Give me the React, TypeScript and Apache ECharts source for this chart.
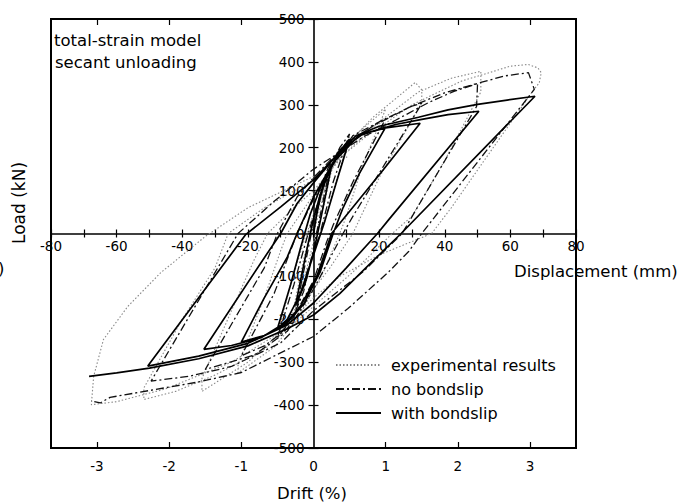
import React, { useEffect, useRef } from "react";
import * as echarts from "echarts";

// ---- data (displacement mm, load kN) ----
const seriesNames = ["experimental results", "no bondslip", "with bondslip"];

const experimentalResults: [number, number][] = [
  [0, 0], [3, 90], [6, 165], [3, 60], [0, -20], [-3, -110], [-6, -172], [-3, -60], [0, 25], [5, 140], [11, 225],
  [6, 100], [2, 0], [-2, -90], [-6, -182], [-11, -235], [-7, -120], [-3, -20], [0, 45], [6, 155], [12, 225], [22, 290],
  [15, 160], [10, 40], [8, 0], [3, -90], [-5, -200], [-12, -265], [-23, -325], [-23, -305],
  [-15, -150], [-10, -40], [-8, 0], [0, 90], [8, 190], [18, 270], [31, 352], [33, 335], [33, 305],
  [20, 130], [12, 0], [5, -80], [0, -130], [-10, -230], [-20, -300], [-34, -368], [-34, -338],
  [-25, -180], [-18, -60], [-14, 0], [-6, 60], [0, 100], [10, 190], [20, 260], [32, 330], [42, 362], [51, 378], [51, 330],
  [40, 170], [30, 40], [24, 0], [12, -90], [0, -170], [-15, -270], [-30, -330], [-42, -368], [-51.7, -387], [-51.7, -360],
  [-40, -200], [-30, -80], [-26, 0], [-15, 60], [0, 125], [15, 220], [30, 300], [45, 355], [60, 390], [65.4, 394], [68.4, 386], [69.4, 375], [68.8, 351], [67.2, 336],
  [52, 170], [42, 60], [36, 0], [20, -50], [8, -100], [0, -150], [-10, -230], [-25, -300], [-45, -362], [-60, -392], [-67.7, -399],
  [-67, -333], [-64, -247], [-56.6, -170], [-46.5, -91], [-33, -7], [-20, 60], [0, 133], [10.5, 180],
];

const noBondslip: [number, number][] = [
  [0, 0], [1.5, 75], [3, 125], [5.5, 172],
  [2.5, 60], [0, -35], [-3, -135], [-5.5, -182],
  [-2.5, -70], [0, 25], [4, 135], [8, 200], [11, 232],
  [6, 120], [2, 0], [-2, -90], [-6, -195], [-11, -242],
  [-6, -120], [-2, -10], [0, 40], [5, 150], [12, 228], [22, 268],
  [12, 120], [6, 20], [4, -20], [0, -110], [-8, -222], [-15, -262], [-22, -285],
  [-12, -140], [-7, -40], [-5, 0], [0, 80], [8, 192], [18, 250], [30, 297], [33, 303],
  [12, 40], [9, 0], [0, -130], [-8, -228], [-18, -283], [-33, -317],
  [-15, -80], [-11, 0], [-5, 85], [0, 130], [10, 210], [20, 260], [30, 297], [40, 328], [50, 350], [49.7, 296],
  [27, 0], [15, -90], [0, -180], [-10, -255], [-25, -310], [-38, -333], [-49.5, -344],
  [-23, 0], [-12, 75], [0, 150], [15.4, 226], [25, 264], [35, 305], [43, 332], [51, 352], [58, 367], [65.5, 375], [67.3, 336],
  [33, 0], [29, -42], [22.7, -91], [10.5, -175], [0, -240], [-22, -324], [-35, -346], [-50, -366], [-62, -382], [-65, -395], [-67.8, -390],
];

const withBondslip: [number, number][] = [
  [0, 0], [1, 45], [2.5, 100], [5.5, 158],
  [2.5, 45], [0, -45], [-2.5, -115], [-5.5, -168],
  [-2.5, -55], [0, 35], [3, 115], [5.5, 155], [8, 192], [11, 220],
  [7, 120], [3.5, 30], [0, -50], [-4, -140], [-8, -200], [-11, -222],
  [-7, -120], [-4, -35], [-1, 45], [3, 125], [8, 188], [14, 228], [22, 248],
  [14, 140], [9, 60], [6, 0], [2, -90], [-3, -165], [-8, -208], [-15, -238], [-22, -253],
  [-15, -150], [-8, -55], [-5, 0], [0, 85], [6, 165], [14, 230], [22, 246], [32.5, 257],
  [20.6, 142], [5.5, 0], [1, -100], [-4, -170], [-8, -205], [-16, -243], [-25, -261], [-33.4, -270],
  [-16, -68], [-10, 0], [-5, 70], [0, 118], [8, 192], [15, 232], [25, 254], [33, 266], [41, 277], [50.4, 285],
  [23, 33], [19.5, 0], [10, -80], [0, -162], [-8, -213], [-20, -256], [-35, -286], [-50.5, -309],
  [-20.6, -2], [-10, 62], [0, 125], [8, 190], [13, 228], [20, 250], [32, 271], [41, 288], [50, 301], [59, 311], [67.5, 320],
  [26.7, 0], [18.5, -61], [8, -140], [0, -190], [-8, -222], [-20, -262], [-35, -292], [-50, -314], [-60, -325], [-68.4, -333],
];

// ---- axes ----
const dispMin = -80;
const dispMax = 80;
const loadMin = -500;
const loadMax = 500;
const mmPerDriftPct = 22;
const driftTicks = [-3, -2, -1, 1, 2, 3];
const driftLabels = [-3, -2, -1, 0, 1, 2, 3];

const FONT = '"DejaVu Sans", sans-serif';

// grid geometry
const GRID_LEFT = 51;
const GRID_RIGHT = 118;
const GRID_TOP = 19;
const GRID_BOTTOM = 56;
const CHART_W = 694;
const CHART_H = 504;
const plotW = CHART_W - GRID_LEFT - GRID_RIGHT;
const plotH = CHART_H - GRID_TOP - GRID_BOTTOM;
// crossing axes move into the middle of the box (zero of both scales)
const xAxisOffset = -(plotH * (0 - loadMin)) / (loadMax - loadMin);
const yAxisOffset = -(plotW * (0 - dispMin)) / (dispMax - dispMin);

export default function App() {
  const ref = useRef<HTMLDivElement>(null);

  useEffect(() => {
    document.body.style.margin = "0";
    if (!ref.current) return;
    const chart = echarts.init(ref.current, undefined, { renderer: "svg" });

    const lineCommon = {
      type: "line" as const,
      symbol: "none",
      showSymbol: false,
      xAxisIndex: 0,
      yAxisIndex: 0,
      silent: true,
      clip: true,
    };

    const tickStyle = { color: "#000", width: 1.2 };

    const option: any = {
      animation: false,
      backgroundColor: "#fff",
      grid: {
        left: GRID_LEFT, right: GRID_RIGHT, top: GRID_TOP, bottom: GRID_BOTTOM,
        show: true, borderColor: "#000", borderWidth: 2,
        containLabel: false, outerBoundsMode: "none",
      },
      legend: {
        orient: "vertical",
        left: 330,
        top: 352,
        itemWidth: 45,
        itemHeight: 14,
        itemGap: 8,
        selectedMode: false,
        data: seriesNames,
        itemStyle: { color: "rgba(0,0,0,0)", borderColor: "rgba(0,0,0,0)", borderWidth: 0 },
        textStyle: { fontSize: 16, fontFamily: FONT, color: "#000", padding: [0, 0, 0, 5] },
      },
      xAxis: [
        {
          type: "value", min: dispMin, max: dispMax, interval: 10, position: "bottom", offset: xAxisOffset,
          axisLine: { show: true, onZero: false, lineStyle: { color: "#000", width: 1.6 } },
          axisTick: { show: true, inside: true, length: 4, lineStyle: tickStyle },
          axisLabel: {
            show: true, margin: 5, fontSize: 13.5, fontFamily: FONT, color: "#000",
            showMinLabel: true, showMaxLabel: true, hideOverlap: false,
            formatter: (v: number) => (v % 20 === 0 && v !== 0 ? String(v) : ""),
          },
          splitLine: { show: false },
        },
        {
          type: "value", min: dispMin, max: dispMax, interval: 10, position: "bottom", offset: xAxisOffset,
          axisLine: { show: false, onZero: false },
          axisTick: { show: true, inside: false, length: 4, lineStyle: tickStyle },
          axisLabel: { show: false },
          splitLine: { show: false },
        },
        {
          type: "value", min: dispMin / mmPerDriftPct, max: dispMax / mmPerDriftPct, position: "bottom",
          axisLine: { show: false, onZero: false },
          axisTick: { show: true, inside: true, length: 6, customValues: driftTicks, lineStyle: tickStyle },
          axisLabel: { show: true, customValues: driftLabels, margin: 11, fontSize: 13.5, fontFamily: FONT, color: "#000" },
          splitLine: { show: false },
        },
        {
          type: "value", min: dispMin / mmPerDriftPct, max: dispMax / mmPerDriftPct, position: "top",
          axisLine: { show: false, onZero: false },
          axisTick: { show: true, inside: true, length: 6, customValues: driftTicks, lineStyle: tickStyle },
          axisLabel: { show: false },
          splitLine: { show: false },
        },
      ],
      yAxis: [
        {
          type: "value", min: loadMin, max: loadMax, interval: 100, position: "left", offset: yAxisOffset,
          axisLine: { show: true, onZero: false, lineStyle: { color: "#000", width: 1.6 } },
          axisTick: { show: true, inside: false, length: 5, lineStyle: tickStyle },
          axisLabel: {
            show: true, margin: 9, fontSize: 13.5, fontFamily: FONT, color: "#000",
            showMinLabel: true, showMaxLabel: true, hideOverlap: false,
            formatter: (v: number) => String(v),
          },
          splitLine: { show: false },
        },
        {
          type: "value", min: loadMin, max: loadMax, interval: 100, position: "left", offset: yAxisOffset,
          axisLine: { show: false, onZero: false },
          axisTick: { show: true, inside: true, length: 5, lineStyle: tickStyle },
          axisLabel: { show: false },
          splitLine: { show: false },
        },
      ],
      series: [
        {
          ...lineCommon, name: seriesNames[0], data: experimentalResults, z: 2,
          lineStyle: { color: "#888", width: 1.1, type: [1.5, 2] },
          itemStyle: { color: "#888" },
        },
        {
          ...lineCommon, name: seriesNames[1], data: noBondslip, z: 3,
          lineStyle: { color: "#111", width: 1.3, type: [8, 3, 2, 3] },
          itemStyle: { color: "#111" },
        },
        {
          ...lineCommon, name: seriesNames[2], data: withBondslip, z: 4,
          lineStyle: { color: "#000", width: 1.7, type: "solid" },
          itemStyle: { color: "#000" },
        },
      ],
      graphic: [
        { type: "text", x: 54, y: 40, silent: true, style: { text: "total-strain model", font: `16.5px ${FONT}`, fill: "#000", align: "left", verticalAlign: "middle" } },
        { type: "text", x: 55, y: 62, silent: true, style: { text: "secant unloading", font: `16.5px ${FONT}`, fill: "#000", align: "left", verticalAlign: "middle" } },
        { type: "text", x: 514, y: 271, silent: true, style: { text: "Displacement (mm)", font: `16.5px ${FONT}`, fill: "#000", align: "left", verticalAlign: "middle" } },
        { type: "text", x: 312, y: 493, silent: true, style: { text: "Drift (%)", font: `16.5px ${FONT}`, fill: "#000", align: "center", verticalAlign: "middle" } },
        { type: "text", x: 19, y: 203, rotation: Math.PI / 2, silent: true, style: { text: "Load (kN)", font: `17px ${FONT}`, fill: "#000", align: "center", verticalAlign: "middle" } },
        { type: "text", x: -2, y: 268, silent: true, style: { text: ")", font: `16.5px ${FONT}`, fill: "#000", align: "left", verticalAlign: "middle" } },
      ],
    };

    chart.setOption(option);
    return () => chart.dispose();
  }, []);

  return <div ref={ref} style={{ width: CHART_W, height: CHART_H }} />;
}
